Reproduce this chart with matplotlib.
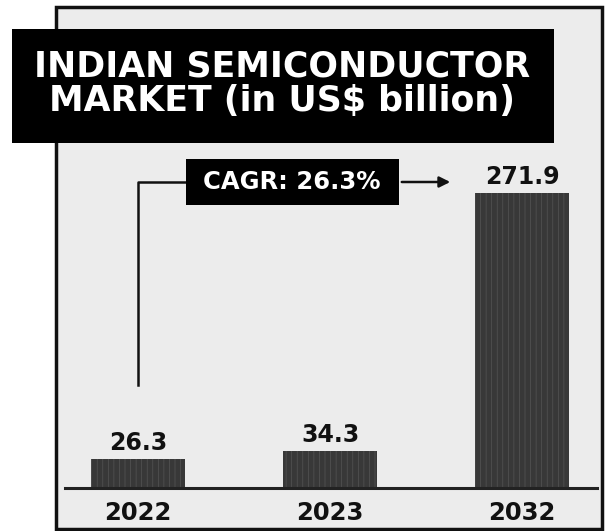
import matplotlib
matplotlib.use('Agg')
import matplotlib.pyplot as plt
from matplotlib.patches import Rectangle, FancyArrowPatch
from matplotlib.lines import Line2D

years = ['2022', '2023', '2032']
market = [26.3, 34.3, 271.9]
title = 'INDIAN SEMICONDUCTOR\nMARKET (in US$ billion)'
cagr_label = 'CAGR: 26.3%'

W, H = 605, 531
plt.rcParams['font.family'] = ['DejaVu Sans']
plt.rcParams['hatch.linewidth'] = 0.5


def fx(x):
    return x / W


def fy(y):
    return 1 - y / H


fig = plt.figure(figsize=(W / 100, H / 100), dpi=100)
fig.patch.set_facecolor('white')

# framed panel
fig.add_artist(Rectangle((fx(56), fy(529)), fx(602) - fx(56), fy(7) - fy(529),
                         transform=fig.transFigure, facecolor='#ececec',
                         edgecolor='#111111', linewidth=2.5, zorder=0))

ax = fig.add_axes([fx(65), fy(488), fx(597) - fx(65), fy(150) - fy(488)])
ax.set_facecolor('none')
xs = list(range(len(years)))
bars = ax.bar(xs, market, width=0.49, color='#383838', edgecolor='#555555',
              hatch='|||', linewidth=0, zorder=2)
ax.set_xlim(-0.38, 2.39)
ax.set_ylim(0, 311.5)
for s in ['top', 'right', 'left']:
    ax.spines[s].set_visible(False)
ax.spines['bottom'].set_linewidth(2.2)
ax.spines['bottom'].set_color('#222222')
ax.set_yticks([])
ax.set_xticks(xs)
ax.set_xticklabels(years, fontsize=17.5, fontweight='bold', color='#111111')
ax.tick_params(axis='x', length=0, pad=9)

for x, v in zip(xs, market):
    ax.annotate(f'{v}', (x, v), xytext=(0, 3), textcoords='offset points',
                ha='center', va='bottom', fontsize=17, fontweight='bold',
                color='#111111')

# title box
fig.add_artist(Rectangle((fx(12), fy(143)), fx(554) - fx(12), fy(29) - fy(143),
                         transform=fig.transFigure, facecolor='black',
                         edgecolor='none', zorder=3))
fig.text(fx(282), fy(84), title, ha='center', va='center', color='white',
         fontsize=25, fontweight='bold', linespacing=1.02, zorder=4)

# CAGR connector
lc = '#111111'
fig.add_artist(Line2D([fx(138), fx(138), fx(186)], [fy(385), fy(182), fy(182)],
                      transform=fig.transFigure, color=lc, linewidth=1.8))
fig.add_artist(Rectangle((fx(186), fy(205)), fx(399) - fx(186), fy(159) - fy(205),
                         transform=fig.transFigure, facecolor='black',
                         edgecolor='none', zorder=3))
fig.text(fx(292), fy(182), cagr_label, ha='center', va='center', color='white',
         fontsize=17.5, fontweight='bold', zorder=4)
fig.add_artist(FancyArrowPatch((fx(399), fy(182)), (fx(453), fy(182)),
                               transform=fig.transFigure, arrowstyle='-|>',
                               mutation_scale=16, color=lc, linewidth=1.8))

fig.savefig('out.png', dpi=100, facecolor='white')
